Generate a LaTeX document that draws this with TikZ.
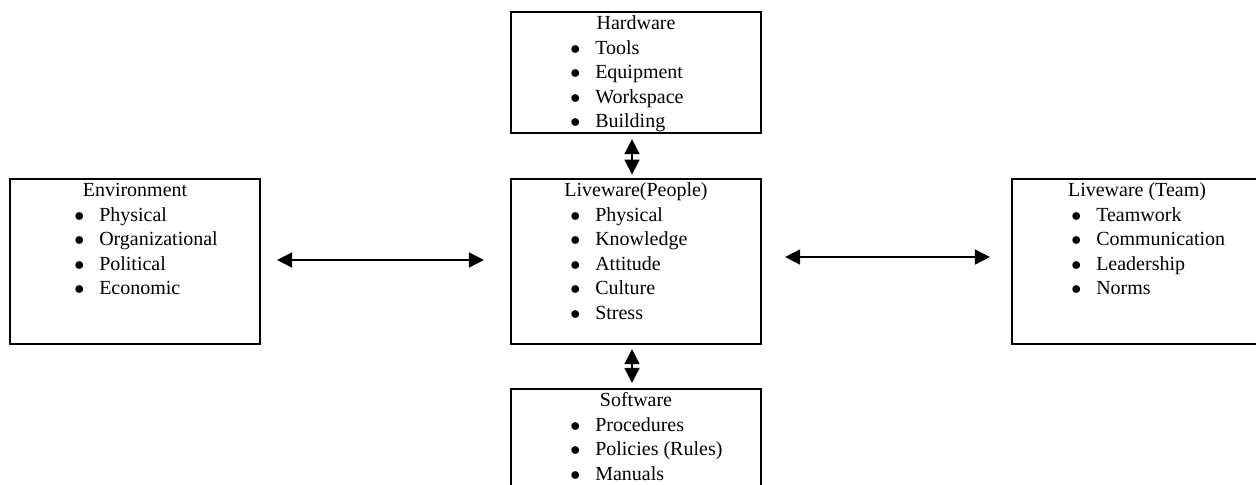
\documentclass[tikz,border=0pt]{standalone}
\usepackage{fontspec}
\setmainfont{Liberation Serif}
\usepackage{tikz}
\usetikzlibrary{positioning,arrows.meta}

\newcommand{\itm}[1]{\makebox[15pt][l]{$\bullet$}#1}

\begin{document}
\begin{tikzpicture}[x=0.6pt,y=-0.6pt,
	blk/.style={draw, line width=1.3pt, minimum width=150pt, inner sep=0pt},
	ttl/.style={inner sep=0pt, font=\fontsize{12pt}{14.7pt}\selectfont},
	lst/.style={inner sep=0pt, font=\fontsize{12pt}{14.7pt}\selectfont},
	arr/.style={<->, >={Triangle[length=9pt,width=9pt]}, line width=1pt}]
	\useasboundingbox (0,0) rectangle (1256,484);
	
	% boxes
	\node[blk, minimum height=72.6pt] (hw) at (636,72.5) {};
	\node[blk, minimum height=99pt] (pl) at (636,261.5) {};
	\node[blk, minimum height=72pt] (sw) at (636,449) {};
	\node[blk, minimum height=99pt] (env) at (135,261.5) {};
	\node[blk, minimum height=99pt] (team) at (1137,261.5) {};
	
	% texts
	\node[ttl, below=11.4pt of hw.north, anchor=base] (hwT) {Hardware};
	\node[lst, below right=26.1pt and 36pt of hw.north west, anchor=base west] (hwL)
	{\begin{tabular}[t]{@{}l@{}}
		\itm{Tools}\\ \itm{Equipment}\\ \itm{Workspace}\\ \itm{Building}
	\end{tabular}};
	
	\node[ttl, below=11.4pt of pl.north, anchor=base] (plT) {Liveware(People)};
	\node[lst, below right=26.1pt and 36pt of pl.north west, anchor=base west] (plL)
	{\begin{tabular}[t]{@{}l@{}}
		\itm{Physical}\\ \itm{Knowledge}\\ \itm{Attitude}\\ \itm{Culture}\\ \itm{Stress}
	\end{tabular}};
	
	\node[ttl, below=11.4pt of sw.north, anchor=base] (swT) {Software};
	\node[lst, below right=26.1pt and 36pt of sw.north west, anchor=base west] (swL)
	{\begin{tabular}[t]{@{}l@{}}
		\itm{Procedures}\\ \itm{Policies (Rules)}\\ \itm{Manuals}
	\end{tabular}};
	
	\node[ttl, below=11.4pt of env.north, anchor=base] (envT) {Environment};
	\node[lst, below right=26.1pt and 39pt of env.north west, anchor=base west] (envL)
	{\begin{tabular}[t]{@{}l@{}}
		\itm{Physical}\\ \itm{Organizational}\\ \itm{Political}\\ \itm{Economic}
	\end{tabular}};
	
	\node[ttl, below=11.4pt of team.north, anchor=base] (teamT) {Liveware (Team)};
	\node[lst, below right=26.1pt and 36pt of team.north west, anchor=base west] (teamL)
	{\begin{tabular}[t]{@{}l@{}}
		\itm{Teamwork}\\ \itm{Communication}\\ \itm{Leadership}\\ \itm{Norms}
	\end{tabular}};
	
	% arrows
	\draw[arr, shorten <=3pt, shorten >=2pt] ([xshift=-2.4pt]hw.south) -- ([xshift=-2.4pt]pl.north);
	\draw[arr, shorten <=2.4pt, shorten >=3pt] ([xshift=-2.4pt]pl.south) -- ([xshift=-2.4pt]sw.north);
	\draw[arr, shorten <=9.6pt, shorten >=15.6pt] ([yshift=0.9pt]env.east) -- ([yshift=0.9pt]pl.west);
	\draw[arr, shorten <=13.8pt, shorten >=12.6pt] ([yshift=2.7pt]pl.east) -- ([yshift=2.7pt]team.west);
	
\end{tikzpicture}
\end{document}
